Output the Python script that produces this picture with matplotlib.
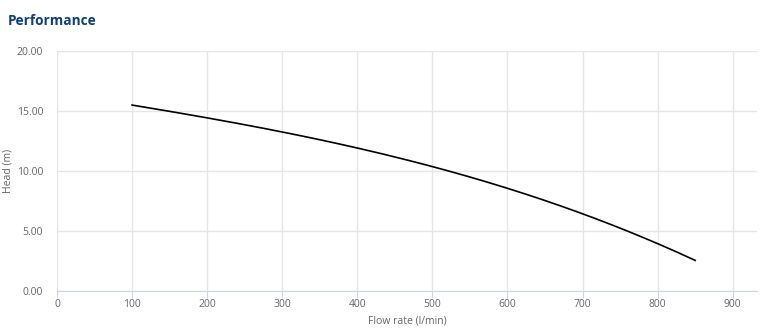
import matplotlib
matplotlib.use("Agg")
import matplotlib.pyplot as plt
import numpy as np

# pump curve
flow = [100, 200, 300, 400, 500, 600, 700, 800, 850]
head = [15.5, 14.45, 13.25, 11.95, 10.35, 8.55, 6.47, 3.95, 2.55]

x_ticks = [0, 100, 200, 300, 400, 500, 600, 700, 800, 900]
y_ticks = [0, 5, 10, 15, 20]

plt.rcParams['font.family'] = ['Open Sans', 'DejaVu Sans']

fig = plt.figure(figsize=(7.69, 3.30), dpi=100)
ax = fig.add_axes([0.0741, 0.118, 0.91, 0.727])

# smooth line through the read points
xs = np.linspace(flow[0], flow[-1], 200)
coef = np.polyfit(flow, head, 3)
ax.plot(xs, np.polyval(coef, xs), color="black", lw=1.2)

ax.set_xlim(0, 932)
ax.set_ylim(0, 20)
ax.set_xticks(x_ticks)
ax.set_yticks(y_ticks)
ax.set_yticklabels(["%.2f" % v for v in y_ticks])
ax.grid(True, color="#e6e6e6", lw=1)
ax.set_axisbelow(True)

for s in ["top", "right", "left"]:
    ax.spines[s].set_visible(False)
ax.spines["bottom"].set_color("#ccd6eb")
ax.tick_params(axis="x", colors="#666666", labelsize=7.5, length=5, color="#ccd6eb", pad=0.5)
ax.tick_params(axis="y", colors="#666666", labelsize=7.5, length=0, pad=10)

ax.set_xlabel("Flow rate (l/min)", color="#666666", fontsize=7.5, va="center")
ax.xaxis.set_label_coords(0.5, -30 / 240)
ax.set_ylabel("Head (m)", color="#666666", fontsize=7.5, va="center")
ax.yaxis.set_label_coords(-49 / 700, 0.5)

fig.text(0.010, 0.937, "Performance", fontsize=9.8, fontweight="bold", color="#0d3f7f", va="center")

fig.savefig("out.png", dpi=100)
